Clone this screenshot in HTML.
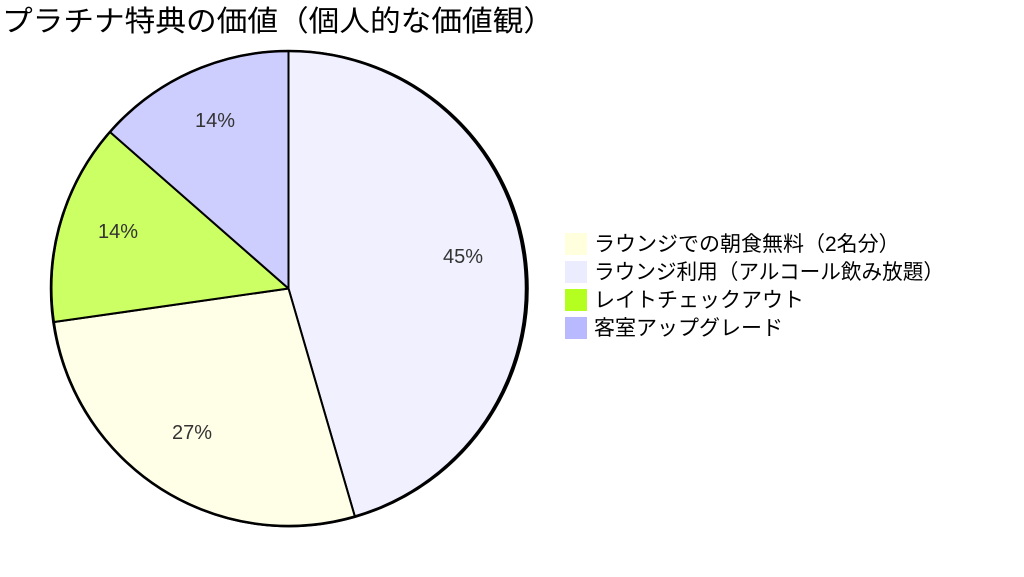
<!DOCTYPE html>
<html><head><meta charset="utf-8"><style>
html,body{margin:0;padding:0;background:#fff;width:1024px;height:577px;overflow:hidden}
text{font-family:"Liberation Sans","Noto Sans CJK JP",sans-serif}
</style></head><body>
<svg width="1024" height="577" viewBox="0 0 1024 577" xmlns="http://www.w3.org/2000/svg">
<text x="2" y="31" font-size="29" fill="#000" textLength="552" lengthAdjust="spacingAndGlyphs">プラチナ特典の価値（個人的な価値観）</text>
<g stroke="#000" stroke-width="2" stroke-linejoin="round">
<path d="M288.5,288.5 L288.5,51 A237.5,237.5 0 0 1 355,517 Z" fill="#f0f0ff"/>
<path d="M288.5,288.5 L355,517 A237.5,237.5 0 0 1 54,322 Z" fill="#ffffe8"/>
<path d="M288.5,288.5 L54,322 A237.5,237.5 0 0 1 110,132 Z" fill="#ccff63"/>
<path d="M288.5,288.5 L110,132 A237.5,237.5 0 0 1 288.5,51 Z" fill="#cecefe"/>
</g>
<circle cx="288.5" cy="288.5" r="237.5" fill="none" stroke="#000" stroke-width="2.5"/>
<g font-size="20" fill="#333" text-anchor="middle">
<text x="463" y="263">45%</text>
<text x="192" y="439">27%</text>
<text x="118" y="238">14%</text>
<text x="215" y="127">14%</text>
</g>
<rect x="565" y="233" width="22" height="22" fill="#ffffde"/>
<rect x="565" y="261" width="22" height="22" fill="#ececff"/>
<rect x="565" y="289" width="22" height="22" fill="#b5ff20"/>
<rect x="565" y="317" width="22" height="22" fill="#b9b9ff"/>
<g font-size="21" fill="#000">
<text x="594" y="251">ラウンジでの朝食無料（2名分）</text>
<text x="594" y="279" textLength="350" lengthAdjust="spacingAndGlyphs">ラウンジ利用（アルコール飲み放題）</text>
<text x="594" y="307">レイトチェックアウト</text>
<text x="594" y="335">客室アップグレード</text>
</g>
</svg>
</body></html>
